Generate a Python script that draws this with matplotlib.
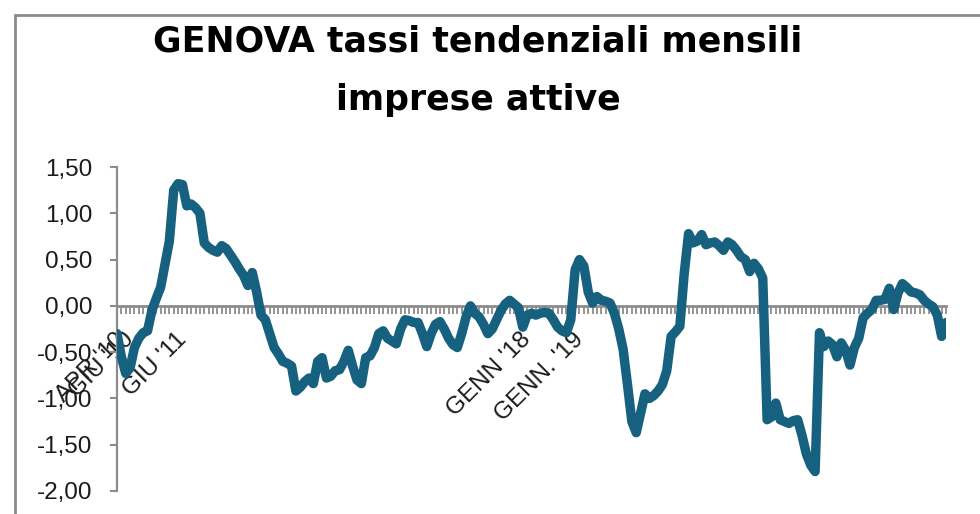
import matplotlib
matplotlib.use("Agg")
import matplotlib.pyplot as plt
import matplotlib.transforms as mtransforms
from matplotlib.patches import Rectangle

# monthly year-on-year rates, Apr 2010 onwards
valori = [
    -0.30, -0.55, -0.73, -0.67, -0.45, -0.35, -0.29, -0.27, -0.05, 0.08,
    0.20, 0.45, 0.70, 1.25, 1.32, 1.31, 1.08, 1.10, 1.06, 1.00,
    0.68, 0.63, 0.60, 0.58, 0.65, 0.62, 0.55, 0.48, 0.40, 0.33,
    0.22, 0.36, 0.15, -0.10, -0.15, -0.30, -0.45, -0.52, -0.60, -0.62,
    -0.65, -0.92, -0.88, -0.82, -0.78, -0.84, -0.60, -0.56, -0.78, -0.76,
    -0.70, -0.69, -0.60, -0.48, -0.65, -0.80, -0.84, -0.56, -0.54, -0.45,
    -0.30, -0.27, -0.35, -0.38, -0.41, -0.25, -0.15, -0.16, -0.18, -0.18,
    -0.30, -0.44, -0.30, -0.20, -0.17, -0.25, -0.35, -0.42, -0.45, -0.30,
    -0.12, 0.00, -0.08, -0.12, -0.20, -0.30, -0.25, -0.15, -0.05, 0.02,
    0.06, 0.02, -0.02, -0.23, -0.10, -0.08, -0.10, -0.08, -0.07, -0.08,
    -0.15, -0.23, -0.27, -0.29, -0.15, 0.39, 0.50, 0.43, 0.15, 0.03,
    0.10, 0.06, 0.05, 0.03, -0.08, -0.25, -0.47, -0.85, -1.25, -1.37,
    -1.16, -0.95, -1.00, -0.97, -0.92, -0.85, -0.70, -0.33, -0.28, -0.22,
    0.35, 0.78, 0.68, 0.70, 0.77, 0.66, 0.68, 0.69, 0.65, 0.60,
    0.69, 0.66, 0.60, 0.53, 0.50, 0.37, 0.46, 0.40, 0.30, -1.23,
    -1.20, -1.05, -1.23, -1.25, -1.27, -1.24, -1.23, -1.40, -1.60, -1.72,
    -1.79, -0.29, -0.44, -0.38, -0.42, -0.55, -0.40, -0.48, -0.64, -0.45,
    -0.35, -0.13, -0.08, -0.04, 0.06, 0.06, 0.07, 0.19, -0.04, 0.14,
    0.24, 0.20, 0.15, 0.14, 0.12, 0.06, 0.02, -0.01, -0.10, -0.33,
    -0.18,
]

# only a few months carry a label on the category axis
etichette_pos = [0, 2, 14, 93, 105]
etichette_txt = ["APR '10", "GIU '10", "GIU '11", "GENN '18", "GENN. '19"]

y_ticks = [-2.0, -1.5, -1.0, -0.5, 0.0, 0.5, 1.0, 1.5]

blu = "#176180"
grigio = "#8c8c8c"
testo = "#1a1a1a"

plt.rcParams["font.family"] = ["Liberation Sans", "DejaVu Sans"]

fig = plt.figure(figsize=(9.8, 5.14), dpi=100)
ax = fig.add_axes([117 / 980, 23 / 514, (946 - 117) / 980, (491 - 167) / 514])

x = list(range(len(valori)))
ax.plot(x, valori, color=blu, lw=6.8, solid_joinstyle="round", solid_capstyle="round", zorder=3)

ax.set_xlim(0, len(valori) - 1)
ax.set_ylim(-2.0, 1.5)

for s in ["top", "right"]:
    ax.spines[s].set_visible(False)
ax.spines["left"].set_color(grigio)
ax.spines["left"].set_linewidth(1.6)
ax.spines["bottom"].set_position(("data", 0))
ax.spines["bottom"].set_color(grigio)
ax.spines["bottom"].set_linewidth(2)

ax.set_yticks(y_ticks)
ax.set_yticklabels([f"{v:.2f}".replace(".", ",") for v in y_ticks])
ax.tick_params(axis="y", direction="out", length=5, width=1.5, color=grigio,
               labelsize=17.5, labelcolor=testo, pad=13)

lab = [""] * len(valori)
for p, t in zip(etichette_pos, etichette_txt):
    lab[p] = t
ax.set_xticks(x)
ax.set_xticklabels(lab)
ax.tick_params(axis="x", direction="out", length=6, width=1.3, color=grigio,
               labelsize=17.5, labelcolor=testo, pad=10)
shift = mtransforms.ScaledTranslation(-3 / 100, 0, fig.dpi_scale_trans)
for t in ax.get_xticklabels():
    t.set_rotation(45)
    t.set_ha("right")
    t.set_va("top")
    t.set_rotation_mode("anchor")
    t.set_transform(t.get_transform() + shift)

fig.text(478 / 980, 1 - 52 / 514, "GENOVA tassi tendenziali mensili",
         ha="center", va="baseline", fontsize=25, fontweight="bold",
         family="DejaVu Sans", color="black")
fig.text(478 / 980, 1 - 110 / 514, "imprese attive",
         ha="center", va="baseline", fontsize=25, fontweight="bold",
         family="DejaVu Sans", color="black")

fig.patches.append(Rectangle((15 / 980, -0.1), 1.0, 1.1 - 15 / 514, transform=fig.transFigure,
                             fill=False, edgecolor=grigio, lw=2))

fig.savefig("out.png", dpi=100)
